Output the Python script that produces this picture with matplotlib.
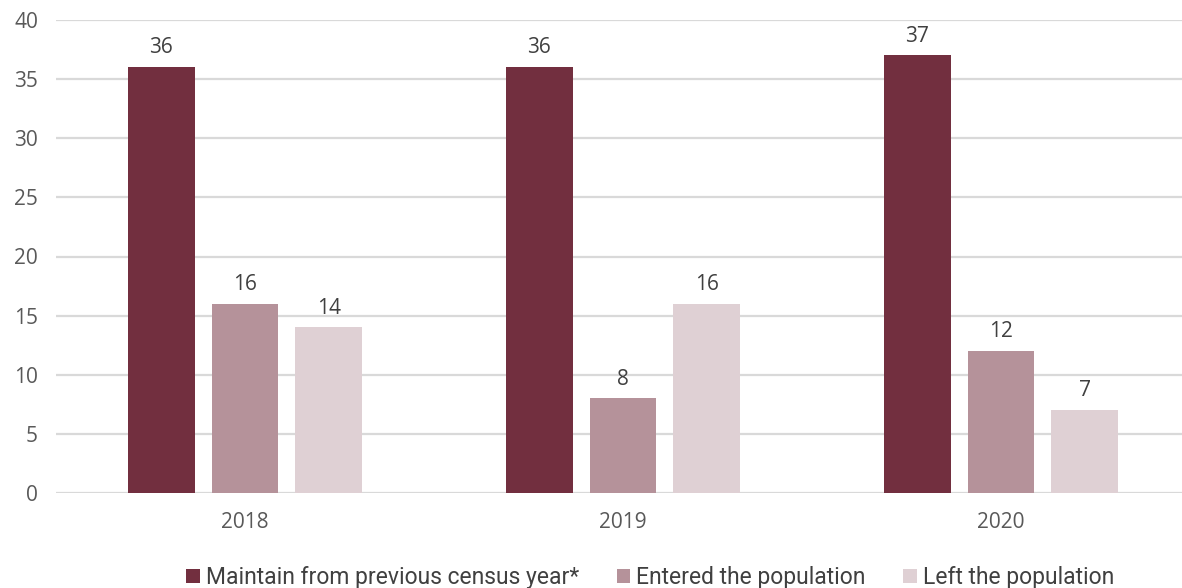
import numpy as np
import matplotlib.pyplot as plt

years = ["2018", "2019", "2020"]
series = ["Maintain from previous census year*", "Entered the population", "Left the population"]
maintain = [36, 36, 37]
entered = [16, 8, 12]
left = [14, 16, 7]
colors = ["#722F3F", "#B5929A", "#DFD0D4"]

plt.rcParams["font.family"] = ["Open Sans", "DejaVu Sans"]

fig = plt.figure(figsize=(11.82, 5.88), dpi=100)
# axes run a little past the right edge so the gridlines reach the border
ax = fig.add_axes([56 / 1182, 95 / 588, 1134 / 1182, 473 / 588])

x = np.arange(len(years))
width = 0.177
step = 0.222
for i, (vals, name, c) in enumerate(zip([maintain, entered, left], series, colors)):
    pos = x + (i - 1) * step
    ax.bar(pos, vals, width=width, color=c, label=name, zorder=3)
    for px, v in zip(pos, vals):
        ax.text(px, v + 0.75, str(v), ha="center", va="bottom",
                fontsize=15, color="#404040")

ax.set_xlim(-0.5, 2.5)
ax.set_ylim(0, 40)
ax.set_yticks(range(0, 41, 5))
ax.set_xticks(x)
ax.set_xticklabels(years)
ax.tick_params(axis="both", length=0, labelsize=15, colors="#595959")
ax.tick_params(axis="y", pad=13)
ax.tick_params(axis="x", pad=14)
ax.grid(axis="y", color="#D9D9D9", linewidth=1.6, zorder=0)
for s in ax.spines.values():
    s.set_visible(False)

leg = fig.legend(loc="lower center", bbox_to_anchor=(0.55, -0.037), ncol=3,
                 frameon=False, handlelength=0.6, handleheight=0.6,
                 handletextpad=0.25, columnspacing=1.65,
                 prop={"family": ["Roboto", "DejaVu Sans"], "size": 16.5})
for t in leg.get_texts():
    t.set_color("#404040")

fig.savefig("out.png", dpi=100)
